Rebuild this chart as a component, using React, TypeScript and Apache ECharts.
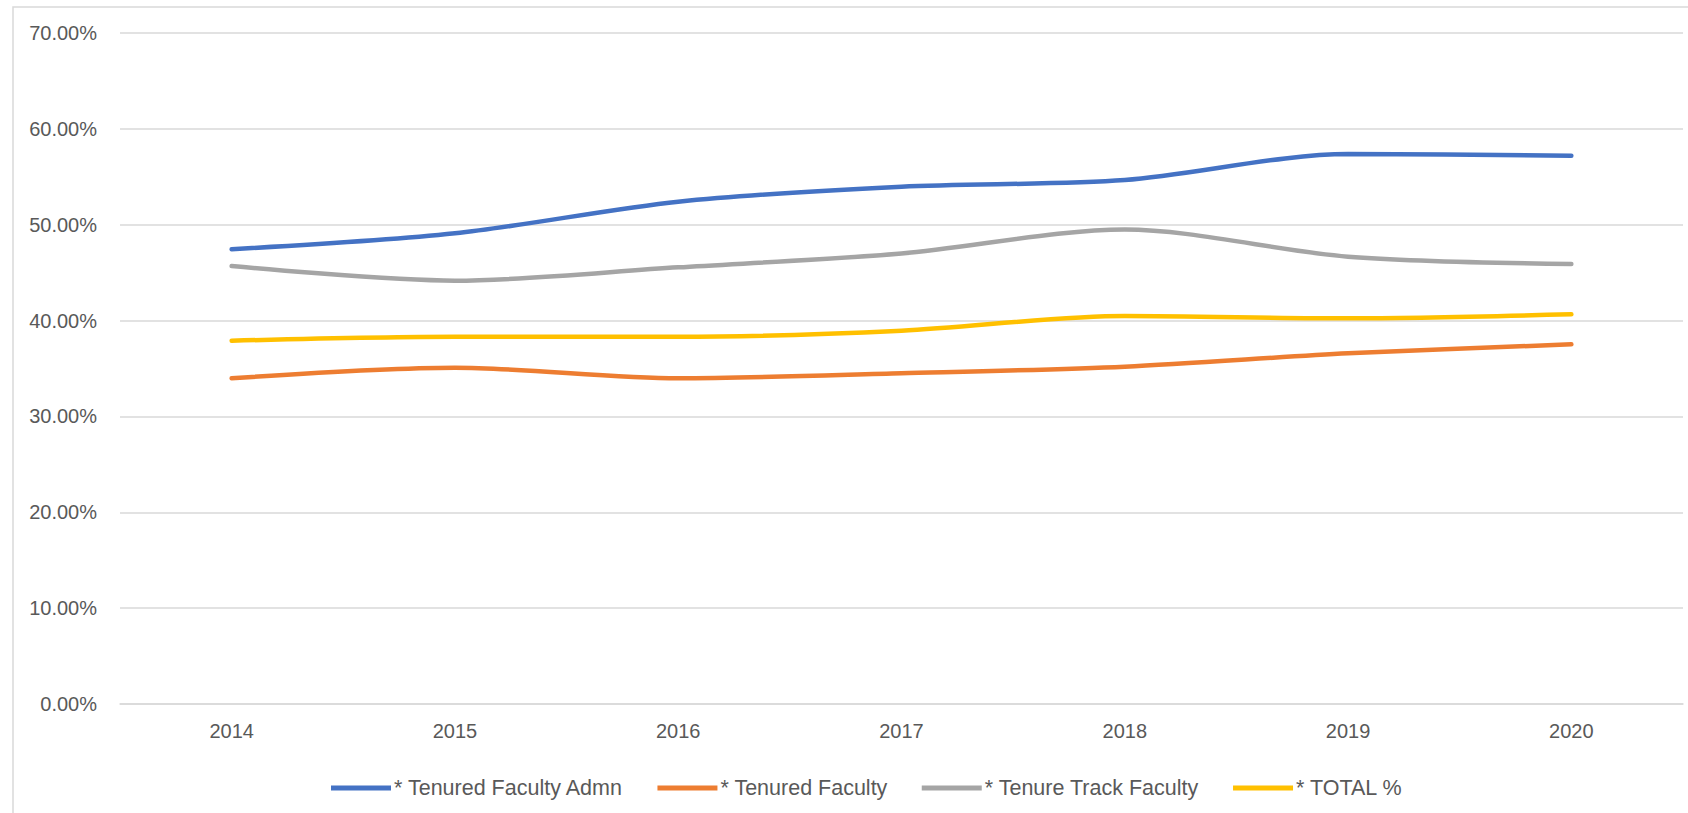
import React, { useEffect, useRef } from "react";
import * as echarts from "echarts";

const years = ["2014", "2015", "2016", "2017", "2018", "2019", "2020"];
const tenuredAdmn = [0.4744, 0.491, 0.524, 0.5397, 0.5466, 0.5738, 0.572];
const tenuredFaculty = [0.3398, 0.3508, 0.3398, 0.345, 0.3519, 0.3658, 0.3752];
const tenureTrack = [0.4569, 0.4416, 0.4555, 0.47, 0.495, 0.4667, 0.459];
const totalPct = [0.379, 0.383, 0.383, 0.3895, 0.4048, 0.4023, 0.4065];

const seriesNames = [
  "* Tenured Faculty Admn",
  "* Tenured Faculty",
  "* Tenure Track Faculty",
  "* TOTAL %",
];
const seriesColors = ["#4472C4", "#ED7D31", "#A5A5A5", "#FFC000"];
const seriesData = [tenuredAdmn, tenuredFaculty, tenureTrack, totalPct];

const FONT = "'Liberation Sans', Arial, sans-serif";

export default function App() {
  const ref = useRef<HTMLDivElement>(null);
  useEffect(() => {
    if (!ref.current) return;
    const chart = echarts.init(ref.current, null, { renderer: "svg" });
    chart.setOption({
      animation: false,
      backgroundColor: "#ffffff",
      graphic: [
        {
          type: "rect",
          shape: { x: 13, y: 7, width: 1720, height: 900 },
          style: { fill: "none", stroke: "#D9D9D9", lineWidth: 1.5 },
          silent: true,
          z: -10,
        },
      ],
      grid: { left: 120, right: 5, top: 33, bottom: 109, containLabel: false },
      legend: {
        left: 326,
        top: 772,
        itemWidth: 60,
        itemHeight: 5,
        itemGap: 34,
        icon: "rect",
        textStyle: { fontFamily: FONT, fontSize: 21.5, color: "#595959", padding: [0, 0, 0, -2] },
        data: seriesNames,
      },
      xAxis: {
        type: "category",
        data: years,
        boundaryGap: true,
        axisLine: { show: true, lineStyle: { color: "#D9D9D9", width: 1.5 } },
        axisTick: { show: false },
        axisLabel: { fontFamily: FONT, fontSize: 20, color: "#595959", margin: 17 },
      },
      yAxis: {
        type: "value",
        min: 0,
        max: 0.7,
        interval: 0.1,
        axisLine: { show: false },
        axisTick: { show: false },
        splitLine: { lineStyle: { color: "#D9D9D9", width: 1.5 } },
        axisLabel: {
          fontFamily: FONT,
          fontSize: 20,
          color: "#595959",
          margin: 23,
          formatter: (v: number) => (v * 100).toFixed(2) + "%",
        },
      },
      series: seriesNames.map((name, i) => ({
        name,
        type: "line",
        data: seriesData[i],
        smooth: 0.3,
        showSymbol: false,
        symbol: "none",
        lineStyle: { color: seriesColors[i], width: 4.5, cap: "round" },
        itemStyle: { color: seriesColors[i] },
      })),
    });
    return () => chart.dispose();
  }, []);
  return (
    <div
      ref={ref}
      style={{ position: "fixed", left: 0, top: 0, width: 1688, height: 813 }}
    />
  );
}
